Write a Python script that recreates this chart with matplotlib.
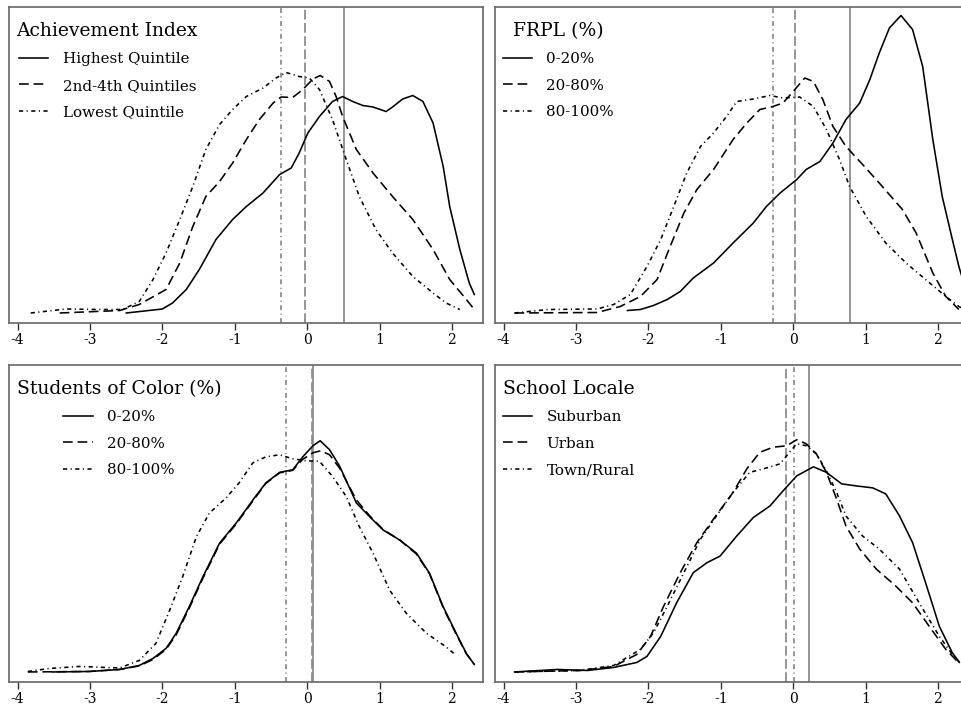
import matplotlib
matplotlib.use('Agg')
import matplotlib.pyplot as plt

plt.rcParams['font.family'] = ['DejaVu Serif']
plt.rcParams['lines.scale_dashes'] = False

# ---- data (kernel density curves) ----
# Panel 1: Achievement Index
ach_high_x = [-2.50, -2.0, -1.86, -1.67, -1.49, -1.26, -1.03, -0.84, -0.61, -0.38, -0.22, -0.11, 0.01, 0.17,
              0.35, 0.49, 0.63, 0.77, 0.91, 1.09, 1.18, 1.32, 1.46, 1.60, 1.74, 1.88, 1.97, 2.11, 2.24, 2.31]
ach_high_y = [0.0, 0.008, 0.02, 0.047, 0.087, 0.147, 0.187, 0.213, 0.24, 0.277, 0.29, 0.32, 0.36, 0.393,
              0.423, 0.433, 0.423, 0.415, 0.412, 0.403, 0.412, 0.428, 0.435, 0.423, 0.38, 0.293, 0.213, 0.127, 0.06, 0.037]
ach_mid_x = [-3.42, -2.59, -2.32, -1.95, -1.76, -1.58, -1.40, -1.21, -1.03, -0.84, -0.66, -0.47, -0.36, -0.20,
             -0.06, 0.08, 0.18, 0.31, 0.40, 0.49, 0.68, 0.91, 1.18, 1.46, 1.74, 1.97, 2.20, 2.31]
ach_mid_y = [0.0, 0.005, 0.017, 0.047, 0.1, 0.173, 0.233, 0.263, 0.30, 0.347, 0.387, 0.42, 0.432, 0.431,
             0.447, 0.468, 0.475, 0.463, 0.433, 0.393, 0.327, 0.28, 0.233, 0.187, 0.127, 0.067, 0.027, 0.007]
ach_low_x = [-3.82, -3.33, -2.87, -2.55, -2.32, -2.13, -1.95, -1.76, -1.58, -1.40, -1.21, -1.03, -0.84, -0.61,
             -0.43, -0.29, -0.11, 0.03, 0.17, 0.35, 0.54, 0.72, 0.95, 1.18, 1.46, 1.74, 1.92, 2.11]
ach_low_y = [0.0, 0.008, 0.007, 0.007, 0.023, 0.067, 0.12, 0.187, 0.253, 0.327, 0.377, 0.407, 0.433, 0.45,
             0.47, 0.481, 0.473, 0.47, 0.447, 0.387, 0.307, 0.233, 0.167, 0.12, 0.073, 0.04, 0.02, 0.007]
ach_means = [0.51, -0.03, -0.36]

# Panel 2: FRPL (%)
frpl_0_x = [-2.29, -2.11, -1.93, -1.74, -1.56, -1.38, -1.10, -0.83, -0.55, -0.37, -0.18, 0.05, 0.18, 0.37, 0.55,
            0.73, 0.92, 1.06, 1.19, 1.33, 1.49, 1.65, 1.79, 1.93, 2.06, 2.20, 2.29, 2.40]
frpl_0_y = [0.005, 0.007, 0.015, 0.027, 0.043, 0.07, 0.1, 0.14, 0.18, 0.213, 0.24, 0.267, 0.287, 0.303, 0.34,
            0.387, 0.42, 0.467, 0.52, 0.57, 0.595, 0.567, 0.493, 0.347, 0.233, 0.147, 0.093, 0.04]
frpl_20_x = [-3.85, -2.71, -2.39, -2.11, -1.88, -1.70, -1.51, -1.33, -1.10, -0.83, -0.64, -0.46, -0.28, -0.14,
             0.0, 0.16, 0.28, 0.41, 0.55, 0.73, 0.96, 1.19, 1.51, 1.70, 1.93, 2.11, 2.29]
frpl_20_y = [0.0, 0.001, 0.013, 0.033, 0.067, 0.133, 0.2, 0.247, 0.287, 0.347, 0.38, 0.407, 0.413, 0.42,
             0.443, 0.47, 0.463, 0.427, 0.373, 0.333, 0.297, 0.26, 0.207, 0.16, 0.08, 0.033, 0.007]
frpl_80_x = [-3.85, -3.39, -2.71, -2.48, -2.25, -2.02, -1.83, -1.65, -1.47, -1.28, -1.10, -0.92, -0.78, -0.55,
             -0.32, -0.14, 0.09, 0.28, 0.46, 0.64, 0.78, 1.01, 1.28, 1.56, 1.83, 2.11, 2.29, 2.40]
frpl_80_y = [0.0, 0.007, 0.008, 0.017, 0.037, 0.093, 0.147, 0.213, 0.28, 0.333, 0.36, 0.393, 0.423, 0.428,
             0.435, 0.43, 0.432, 0.413, 0.367, 0.307, 0.253, 0.193, 0.14, 0.1, 0.067, 0.033, 0.013, 0.005]
frpl_means = [0.79, 0.03, -0.28]

# Panel 3: Students of Color (%)
soc_0_x = [-3.52, -3.01, -2.59, -2.32, -2.13, -1.95, -1.81, -1.63, -1.44, -1.21, -0.98, -0.75, -0.57, -0.38,
           -0.20, -0.06, 0.08, 0.18, 0.31, 0.45, 0.68, 0.86, 1.05, 1.28, 1.51, 1.69, 1.88, 2.06, 2.20, 2.31]
soc_0_y = [0.0, 0.001, 0.005, 0.013, 0.027, 0.047, 0.077, 0.13, 0.19, 0.257, 0.297, 0.343, 0.377, 0.398,
           0.403, 0.429, 0.451, 0.461, 0.443, 0.41, 0.337, 0.31, 0.283, 0.263, 0.237, 0.197, 0.13, 0.077, 0.037, 0.015]
soc_20_x = [-3.86, -3.01, -2.59, -2.32, -2.13, -1.95, -1.81, -1.63, -1.44, -1.21, -0.98, -0.75, -0.57, -0.38,
            -0.20, -0.06, 0.08, 0.19, 0.31, 0.45, 0.68, 0.86, 1.05, 1.28, 1.51, 1.69, 1.88, 2.06, 2.20, 2.31]
soc_20_y = [0.0, 0.001, 0.005, 0.012, 0.025, 0.045, 0.074, 0.127, 0.187, 0.255, 0.295, 0.341, 0.376, 0.397,
            0.402, 0.424, 0.437, 0.441, 0.433, 0.406, 0.343, 0.312, 0.284, 0.263, 0.235, 0.196, 0.128, 0.075, 0.036, 0.015]
soc_80_x = [-3.86, -3.56, -3.15, -2.59, -2.32, -2.09, -1.90, -1.72, -1.53, -1.35, -1.12, -0.94, -0.75, -0.57,
            -0.38, -0.20, -0.01, 0.17, 0.35, 0.54, 0.72, 0.91, 1.14, 1.37, 1.65, 1.92, 2.06]
soc_80_y = [0.001, 0.007, 0.011, 0.008, 0.023, 0.057, 0.123, 0.19, 0.27, 0.317, 0.347, 0.377, 0.417, 0.429,
            0.433, 0.425, 0.421, 0.42, 0.39, 0.35, 0.29, 0.237, 0.163, 0.117, 0.077, 0.05, 0.033]
soc_means = [0.08, 0.07, -0.29]

# Panel 4: School Locale
loc_sub_x = [-3.85, -3.26, -2.84, -2.48, -2.16, -2.02, -1.83, -1.61, -1.38, -1.19, -1.01, -0.78, -0.55, -0.32,
             -0.14, 0.05, 0.28, 0.46, 0.67, 0.87, 1.10, 1.28, 1.47, 1.65, 1.83, 2.02, 2.20, 2.29]
loc_sub_y = [0.0, 0.005, 0.003, 0.009, 0.019, 0.031, 0.071, 0.138, 0.198, 0.218, 0.231, 0.271, 0.308, 0.331,
             0.361, 0.391, 0.409, 0.398, 0.375, 0.371, 0.367, 0.355, 0.311, 0.258, 0.178, 0.091, 0.038, 0.021]
loc_urb_x = [-3.85, -2.94, -2.48, -2.16, -1.97, -1.79, -1.56, -1.33, -1.10, -0.83, -0.64, -0.46, -0.28, -0.09,
             0.05, 0.18, 0.32, 0.46, 0.60, 0.73, 0.92, 1.15, 1.42, 1.65, 1.88, 2.11, 2.29]
loc_urb_y = [0.0, 0.003, 0.011, 0.035, 0.071, 0.131, 0.198, 0.258, 0.305, 0.358, 0.405, 0.438, 0.448, 0.451,
             0.463, 0.455, 0.435, 0.398, 0.345, 0.291, 0.245, 0.205, 0.171, 0.138, 0.091, 0.045, 0.018]
loc_rur_x = [-3.85, -2.94, -2.48, -2.11, -1.93, -1.74, -1.51, -1.28, -1.06, -0.83, -0.60, -0.41, -0.18, -0.05,
             0.05, 0.18, 0.32, 0.46, 0.60, 0.73, 0.96, 1.19, 1.47, 1.74, 2.02, 2.20, 2.32]
loc_rur_y = [0.0, 0.003, 0.013, 0.045, 0.078, 0.131, 0.198, 0.265, 0.311, 0.358, 0.398, 0.405, 0.415, 0.438,
             0.455, 0.451, 0.435, 0.401, 0.358, 0.311, 0.271, 0.245, 0.205, 0.138, 0.071, 0.035, 0.015]
loc_means = [0.22, -0.10, 0.01]

panels = [
    ('Achievement Index', ['Highest Quintile', '2nd-4th Quintiles', 'Lowest Quintile'],
     [(ach_high_x, ach_high_y), (ach_mid_x, ach_mid_y), (ach_low_x, ach_low_y)], ach_means),
    ('FRPL (%)', ['0-20%', '20-80%', '80-100%'],
     [(frpl_0_x, frpl_0_y), (frpl_20_x, frpl_20_y), (frpl_80_x, frpl_80_y)], frpl_means),
    ('Students of Color (%)', ['0-20%', '20-80%', '80-100%'],
     [(soc_0_x, soc_0_y), (soc_20_x, soc_20_y), (soc_80_x, soc_80_y)], soc_means),
    ('School Locale', ['Suburban', 'Urban', 'Town/Rural'],
     [(loc_sub_x, loc_sub_y), (loc_urb_x, loc_urb_y), (loc_rur_x, loc_rur_y)], loc_means),
]

styles = ['-', (0, (7, 3.5)), (0, (3, 2.5, 0.8, 2.5))]
vstyles = ['-', (0, (7, 2.5)), (0, (3.5, 2.5, 0.8, 2.5))]
xticks = [-4, -3, -2, -1, 0, 1, 2]

W, H = 961, 707
fig = plt.figure(figsize=(W / 100, H / 100), dpi=100)
# axes boxes in pixels (left, top, width, height); right column runs past the image edge
boxes = [(9, 7, 474, 316), (495, 7, 474, 316), (9, 365, 474, 317), (495, 365, 474, 317)]

for (title, labels, curves, means), (l, t, w, h) in zip(panels, boxes):
    ax = fig.add_axes([l / W, (H - t - h) / H, w / W, h / H])
    for m, ls in zip(means, vstyles):
        ax.axvline(m, color='#8c8c8c', lw=1.3, ls=ls, zorder=1)
    for (x, y), ls, lab in zip(curves, styles, labels):
        ax.plot(x, y, color='black', lw=1.15, ls=ls, label=lab, zorder=2)
    ax.set_xlim(-4.12, 2.43)
    ax.set_ylim(-0.02, 0.612)
    ax.set_xticks(xticks)
    ax.set_xticklabels([str(v) for v in xticks], fontsize=10)
    ax.set_yticks([])
    ax.tick_params(axis='x', length=5, width=1, pad=2, color='#333333')
    for s in ax.spines.values():
        s.set_color('#666666')
        s.set_linewidth(1.2)
    leg = ax.legend(title=title, loc='upper left', bbox_to_anchor=(0.016, 0.953), frameon=False,
                    fontsize=10.9, title_fontsize=13.5, handlelength=1.95, handletextpad=0.95,
                    labelspacing=0.82, borderpad=0.0, borderaxespad=0.0)

fig.savefig('out.png', dpi=100)
